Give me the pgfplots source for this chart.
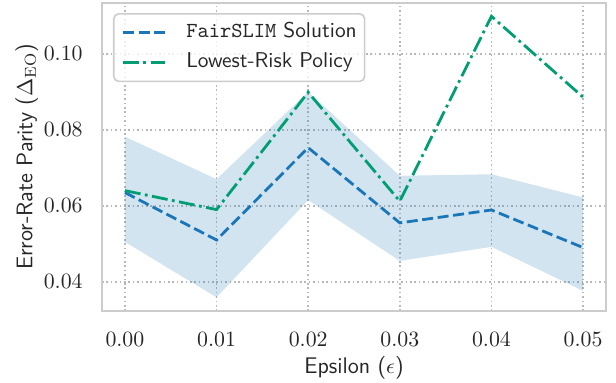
\documentclass[border=0pt]{standalone}
\usepackage{pgfplots}
\pgfplotsset{compat=1.18}
\renewcommand{\familydefault}{\sfdefault}
\definecolor{cbblue}{HTML}{1A76B6}
\definecolor{cbgreen}{HTML}{029E73}
\definecolor{framegray}{HTML}{CCCCCC}
\definecolor{gridgray}{HTML}{B8B8B8}
\definecolor{txt}{HTML}{262626}
\newcommand{\tickfont}{\fontsize{10.7bp}{12.5bp}\selectfont}
\newcommand{\lblfont}{\fontsize{11.3bp}{13bp}\selectfont}
\newcommand{\legfont}{\fontsize{10.7bp}{12.5bp}\selectfont}

\begin{document}
\begin{tikzpicture}
\begin{axis}[
  name=ax,
  at={(0,0)}, anchor=south west,
  scale only axis,
  width=252bp, height=154bp,
  xmin=-0.0025, xmax=0.0525,
  ymin=0.0323, ymax=0.1134,
  xtick={0,0.01,0.02,0.03,0.04,0.05},
  ytick={0.04,0.06,0.08,0.10},
  scaled ticks=false,
  xticklabel={\pgfmathprintnumber[fixed,fixed zerofill,precision=2]{\tick}},
  yticklabel={\pgfmathprintnumber[fixed,fixed zerofill,precision=2]{\tick}},
  major tick length=0pt,
  tick style={draw=none},
  grid=major,
  major grid style={gridgray, line width=0.8bp, dash pattern=on 0.8bp off 1.4bp},
  axis line style={framegray, line width=1.1bp},
  tick label style={font=\tickfont, text=txt, inner sep=0pt},
  xticklabel style={anchor=north, yshift=-10.3bp},
  yticklabel style={anchor=east, xshift=-9.5bp},
  label style={font=\lblfont, text=txt, inner sep=0pt},
  xlabel={Epsilon ($\epsilon$)},
  xlabel style={at={([yshift=-31bp]axis description cs:0.5,0)}, anchor=base},
  ylabel={Error-Rate Parity ($\Delta_{\mathrm{EO}}$)},
  ylabel style={at={([xshift=-34.8bp]axis description cs:0,0.5)}, anchor=base, rotate=0},
  legend cell align=left,
  legend image code/.code={\draw[#1] (0bp,0bp) -- (21bp,0bp);},
  legend style={
    at={(axis description cs:0.0218,0.9675)}, anchor=north west,
    draw=framegray, line width=0.8bp, rounded corners=2.5bp,
    fill=white, fill opacity=0.8, text opacity=1,
    font=\legfont, text=txt,
    inner xsep=3.9bp, inner ysep=1.9bp, row sep=0bp,
    nodes={inner xsep=0bp, inner ysep=2.5bp, text height=7.5bp, text depth=2.5bp, anchor=west},
    /tikz/every odd column/.append style={column sep=10bp},
  },
]
% spread of the FairSLIM solution across runs
\addplot[draw=none, fill=cbblue, fill opacity=0.2, forget plot] coordinates {
  (0,0.0782) (0.01,0.0670) (0.02,0.0900) (0.03,0.0679) (0.04,0.0683) (0.05,0.0622)
  (0.05,0.0376) (0.04,0.0492) (0.03,0.0455) (0.02,0.0615) (0.01,0.0359) (0,0.0505)
} -- cycle;
\addplot[cbblue, line width=1.4bp, dash pattern=on 5.5bp off 2.3bp] coordinates {
  (0,0.0635) (0.01,0.0510) (0.02,0.0753) (0.03,0.0555) (0.04,0.0589) (0.05,0.0490)
};
\addlegendentry{\texttt{FairSLIM} Solution}
\addplot[cbgreen, line width=1.4bp, dash pattern=on 8bp off 2.2bp on 1.4bp off 2.2bp] coordinates {
  (0,0.0640) (0.01,0.0590) (0.02,0.0899) (0.03,0.0612) (0.04,0.1099) (0.05,0.0886)
};
\addlegendentry{Lowest-Risk Policy}
\end{axis}
\pgfresetboundingbox
\path[use as bounding box] ([xshift=-51bp,yshift=-36bp]ax.south west) rectangle ([xshift=5bp,yshift=1.5bp]ax.north east);
\end{tikzpicture}
\end{document}
